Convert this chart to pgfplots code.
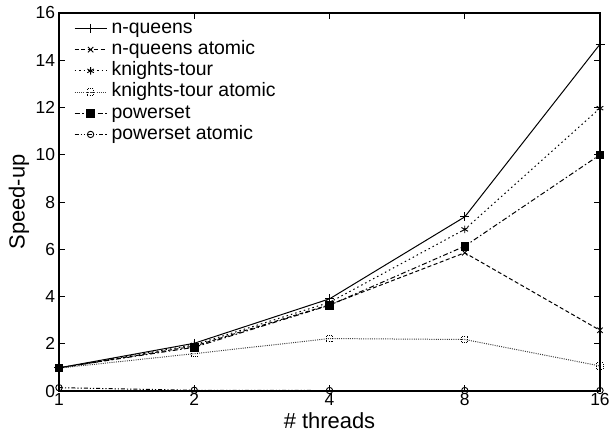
\documentclass[border=0pt]{standalone}
\usepackage{fontspec}
\setmainfont{Liberation Sans}
\usepackage{pgfplots}
\pgfplotsset{compat=1.18}

\pgfplotstableread{
threads nq nqa kt kta ps psa
1  0.98 0.97 0.98 0.97 0.98 0.14
2  2.02 1.90 1.95 1.58 1.85 0.03
4  3.90 3.65 3.75 2.22 3.63 0.02
8  7.37 5.85 6.84 2.18 6.13 0.02
16 14.68 2.57 11.97 1.06 10.00 0.02
}\speedup

\begin{document}
\begin{tikzpicture}
\begin{axis}[
  name=ax,
  scale only axis,
  width=541bp, height=378bp,
  xmode=log, log basis x=2,
  xmin=1, xmax=16, ymin=0, ymax=16,
  xtick={1,2,4,8,16}, xticklabels={1,2,4,8,16},
  ytick={0,2,...,16},
  /pgf/number format/assume math mode=true,
  tick align=inside,
  major tick length=6bp,
  axis line style={line width=1.2pt},
  every tick/.style={black, line width=0.9pt},
  tick label style={font=\fontsize{17.5}{20}\selectfont},
  xticklabel style={yshift=1bp},
  yticklabel style={xshift=-0.5bp},
  xlabel={\# threads},
  ylabel={Speed-up},
  every axis x label/.style={at={(axis description cs:0.5,0)}, yshift=-30bp, anchor=center,
    font=\fontsize{22}{26}\selectfont},
  every axis y label/.style={at={(axis description cs:0,0.5)}, xshift=-40bp, rotate=90, anchor=center,
    font=\fontsize{22}{26}\selectfont},
  legend cell align=left,
  legend style={draw=none, fill=none, at={(0.022,0.993)}, anchor=north west,
    row sep=0pt, font=\fontsize{19.5}{22}\selectfont,
    nodes={inner ysep=1.5bp, inner xsep=4.5bp, text height=14bp, text depth=4.2bp}},
  legend image code/.code={%
    \draw[mark repeat=2,mark phase=2] plot coordinates {(0bp,0bp)(16bp,0bp)(32bp,0bp)};},
  every axis plot/.append style={black, line width=1pt, mark options={solid, line width=0.9pt}},
]
\addplot[mark=+, mark size=4.5bp] table[x=threads, y=nq] {\speedup};
\addlegendentry{n-queens}
\addplot[dash pattern=on 4bp off 2.5bp, mark=x, mark size=3.8bp] table[x=threads, y=nqa] {\speedup};
\addlegendentry{n-queens atomic}
\addplot[dash pattern=on 1.5bp off 3bp, mark=asterisk, mark size=3.8bp] table[x=threads, y=kt] {\speedup};
\addlegendentry{knights-tour}
\addplot[black!75, dash pattern=on 1bp off 1.2bp, mark=square, mark size=3.2bp, mark options={black}] table[x=threads, y=kta] {\speedup};
\addlegendentry{knights-tour atomic}
\addplot[dash pattern=on 5bp off 2.5bp on 1.5bp off 2.5bp, mark=square*, mark size=3.8bp] table[x=threads, y=ps] {\speedup};
\addlegendentry{powerset}
\addplot[dash pattern=on 4bp off 2bp on 1.2bp off 2bp on 1.2bp off 2bp, mark=o, mark size=3.2bp] table[x=threads, y=psa] {\speedup};
\addlegendentry{powerset atomic}
\end{axis}
\pgfresetboundingbox
\path ([xshift=-59bp,yshift=-43bp]ax.south west) rectangle ([xshift=11bp,yshift=13bp]ax.north east);
\end{tikzpicture}
\end{document}
